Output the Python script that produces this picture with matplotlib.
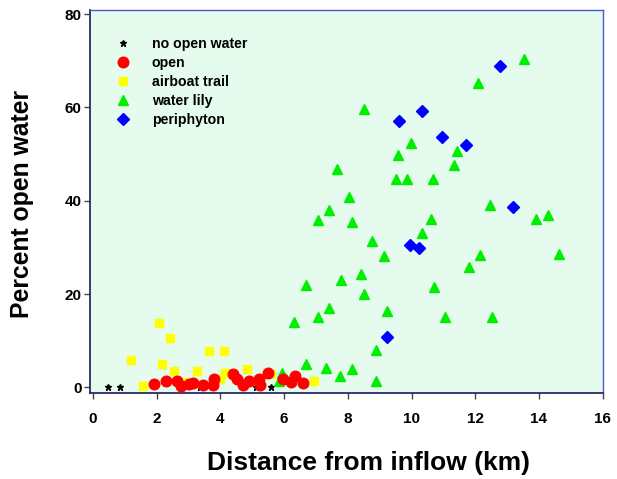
import matplotlib
matplotlib.use("Agg")
import matplotlib.pyplot as plt

plt.rcParams['font.family'] = ['Liberation Sans', 'DejaVu Sans']

# no open water
none_x = [0.48, 0.84, 3.36, 5.11, 5.58]
none_y = [0.0, 0.0, 0.0, 0.0, 0.0]

# open
open_x = [1.92, 2.28, 2.65, 2.76, 3.02, 3.14, 3.47, 3.76, 3.80, 4.39, 4.53,
          4.72, 4.91, 5.22, 5.25, 5.49, 5.98, 6.21, 6.35, 6.59]
open_y = [0.7, 1.4, 1.35, 0.3, 0.7, 1.0, 0.6, 0.5, 1.9, 2.8, 1.7,
          0.6, 1.4, 1.8, 0.6, 3.0, 1.7, 1.1, 2.4, 1.0]

# airboat trail
air_x = [1.19, 1.56, 2.09, 2.18, 2.43, 2.56, 2.94, 3.28, 3.65, 3.99, 4.12,
         4.15, 4.85, 5.59, 6.95]
air_y = [5.85, 0.35, 13.8, 5.1, 10.6, 3.6, 1.2, 3.6, 7.8, 1.9, 7.8,
         3.1, 3.85, 2.8, 1.35]

# water lily
lily_x = [5.85, 5.93, 6.30, 6.68, 6.70, 7.05, 7.07, 7.32, 7.41, 7.42, 7.67,
          7.77, 7.79, 8.04, 8.14, 8.14, 8.41, 8.51, 8.51, 8.77, 8.87, 8.87,
          9.14, 9.23, 9.51, 9.59, 9.86, 9.98, 10.33, 10.61, 10.69, 10.70,
          11.06, 11.34, 11.42, 11.80, 12.08, 12.15, 12.45, 12.54, 13.54,
          13.90, 14.27, 14.63]
lily_y = [1.4, 3.0, 14.1, 5.1, 21.9, 35.8, 15.1, 4.1, 38.1, 17.1, 46.7,
          2.4, 23.0, 40.7, 35.4, 3.9, 24.4, 20.1, 59.6, 31.4, 8.1, 1.4,
          28.1, 16.4, 44.7, 49.7, 44.6, 52.4, 33.1, 36.1, 44.6, 21.6,
          15.1, 47.6, 50.7, 25.8, 65.3, 28.4, 39.1, 15.1, 70.3,
          36.0, 37.0, 28.6]

# periphyton
peri_x = [9.22, 9.60, 9.96, 10.25, 10.33, 10.97, 11.70, 12.79, 13.17]
peri_y = [10.8, 57.0, 30.5, 29.9, 59.3, 53.6, 52.0, 68.8, 38.7]

x_ticks = [0, 2, 4, 6, 8, 10, 12, 14, 16]
y_ticks = [0, 20, 40, 60, 80]

fig = plt.figure(figsize=(6.17, 4.79), dpi=100)
ax = fig.add_axes([0.1459, 0.1795, 0.9773 - 0.1459, 0.9791 - 0.1795])
ax.set_facecolor('#e4fbee')

ax.plot(none_x, none_y, linestyle='none', marker='*', ms=5, color='black',
        label='no open water', zorder=3)
ax.plot(open_x, open_y, linestyle='none', marker='o', ms=7.6, color='#ff0000',
        mec='#ff0000', label='open', zorder=4)
ax.plot(air_x, air_y, linestyle='none', marker='s', ms=6.4, color='#ffff00',
        mec='#ffff00', label='airboat trail', zorder=3)
ax.plot(lily_x, lily_y, linestyle='none', marker='^', ms=7.4, color='#00ee00',
        mec='#00ee00', label='water lily', zorder=3)
ax.plot(peri_x, peri_y, linestyle='none', marker='D', ms=6, color='#0000ff',
        mec='#0000ff', label='periphyton', zorder=3)

ax.set_xlim(-0.09, 16.01)
ax.set_ylim(-1.2, 80.86)
ax.set_xticks(x_ticks)
ax.set_yticks(y_ticks)
ax.set_xticklabels([str(v) for v in x_ticks], fontweight='bold', fontsize=11)
ax.set_yticklabels([str(v) for v in y_ticks], fontweight='bold', fontsize=11)
ax.tick_params(axis='x', direction='out', length=4, width=1, color='#444444', pad=10)
ax.tick_params(axis='y', direction='out', length=4, width=1, color='#444444', pad=2)

for s in ['left', 'bottom']:
    ax.spines[s].set_color('#2a2a6a')
    ax.spines[s].set_linewidth(1.3)
for s in ['top', 'right']:
    ax.spines[s].set_color('#5555cc')
    ax.spines[s].set_linewidth(1.0)

ax.set_xlabel('Distance from inflow (km)', fontsize=19, fontweight='bold')
ax.xaxis.label.set_va('center')
ax.xaxis.set_label_coords(0.5427, -0.183)
ax.set_ylabel('Percent open water', fontsize=17.8, fontweight='bold')
ax.yaxis.label.set_va('center')
ax.yaxis.set_label_coords(-0.1326, 0.4935)

leg = ax.legend(loc='upper left', bbox_to_anchor=(0.0394, 0.944), frameon=False,
                prop={'weight': 'bold', 'size': 10.2}, handlelength=1.0,
                handletextpad=1.54, labelspacing=0.35, borderaxespad=0)

fig.savefig('out.png', dpi=100)
